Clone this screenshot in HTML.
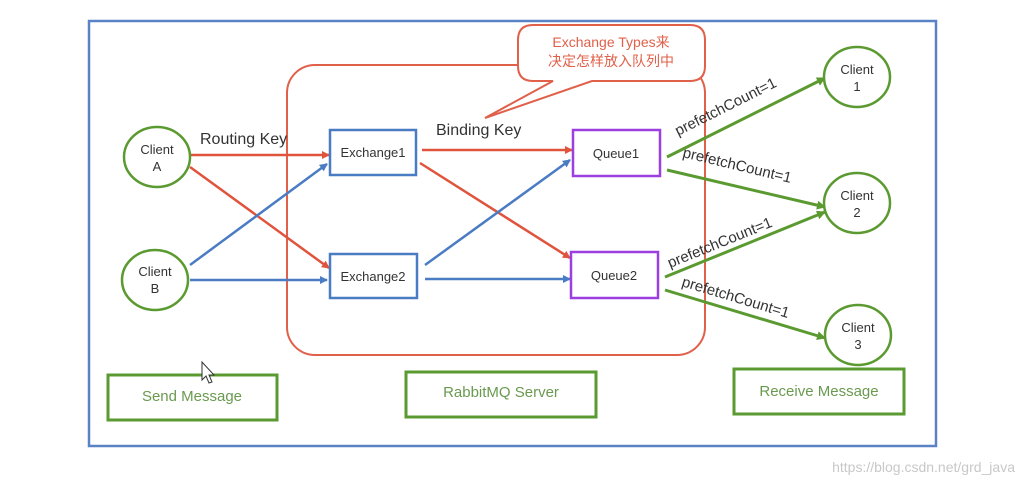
<!DOCTYPE html>
<html><head><meta charset="utf-8"><style>
body{margin:0;background:#fff;}
svg{display:block;font-family:"Liberation Sans","DejaVu Sans",sans-serif;}
</style></head><body>
<svg width="1027" height="484" viewBox="0 0 1027 484" xmlns="http://www.w3.org/2000/svg">
<defs>
<marker id="ar" markerWidth="8" markerHeight="8" refX="7" refY="4" orient="auto" markerUnits="userSpaceOnUse"><path d="M0,0 L8,4 L0,8 z" fill="#e0533c"/></marker>
<marker id="ab" markerWidth="8" markerHeight="8" refX="7" refY="4" orient="auto" markerUnits="userSpaceOnUse"><path d="M0,0 L8,4 L0,8 z" fill="#4a7cc4"/></marker>
<marker id="ag" markerWidth="9" markerHeight="9" refX="8" refY="4.5" orient="auto" markerUnits="userSpaceOnUse"><path d="M0,0 L9,4.5 L0,9 z" fill="#5a9a30"/></marker>
</defs>
<rect x="89" y="21" width="847" height="425" fill="none" stroke="#5a83c6" stroke-width="2.5"/>
<rect x="287" y="65" width="418" height="290" rx="28" fill="none" stroke="#e0604a" stroke-width="2"/>
<path d="M533,25 H690 Q705,25 705,40 V66 Q705,81 690,81 H592 L485,118 L553,81 H533 Q518,81 518,66 V40 Q518,25 533,25 Z" fill="#fff" stroke="#e0604a" stroke-width="2"/>
<text x="611" y="47" font-size="14" fill="#e0604a" text-anchor="middle">Exchange Types来</text>
<text x="611" y="66" font-size="14" fill="#e0604a" text-anchor="middle" font-family="'Liberation Sans','Noto Sans CJK SC',sans-serif">决定怎样放入队列中</text>
<g stroke-width="2.5" fill="none">
<line x1="190" y1="155" x2="329" y2="155" stroke="#e0533c" marker-end="url(#ar)"/>
<line x1="190" y1="167" x2="329" y2="268" stroke="#e0533c" marker-end="url(#ar)"/>
<line x1="190" y1="265" x2="327" y2="164" stroke="#4a7cc4" marker-end="url(#ab)"/>
<line x1="190" y1="280" x2="327" y2="280" stroke="#4a7cc4" marker-end="url(#ab)"/>
<line x1="422" y1="150" x2="572" y2="150" stroke="#e0533c" marker-end="url(#ar)"/>
<line x1="420" y1="163" x2="570" y2="258" stroke="#e0533c" marker-end="url(#ar)"/>
<line x1="425" y1="265" x2="570" y2="160" stroke="#4a7cc4" marker-end="url(#ab)"/>
<line x1="425" y1="279" x2="570" y2="279" stroke="#4a7cc4" marker-end="url(#ab)"/>
<line x1="667" y1="157" x2="825" y2="78" stroke="#5a9a30" stroke-width="3" marker-end="url(#ag)"/>
<line x1="667" y1="170" x2="825" y2="207" stroke="#5a9a30" stroke-width="3" marker-end="url(#ag)"/>
<line x1="665" y1="277" x2="825" y2="212" stroke="#5a9a30" stroke-width="3" marker-end="url(#ag)"/>
<line x1="665" y1="290" x2="825" y2="338" stroke="#5a9a30" stroke-width="3" marker-end="url(#ag)"/>
</g>
<g fill="#fff" stroke="#5a9a30" stroke-width="2.5">
<ellipse cx="157" cy="157" rx="33" ry="30"/>
<ellipse cx="155" cy="280" rx="33" ry="30"/>
<ellipse cx="857" cy="77" rx="33" ry="30"/>
<ellipse cx="857" cy="203" rx="33" ry="30"/>
<ellipse cx="858" cy="335" rx="33" ry="30"/>
</g>
<g font-size="13" fill="#333" text-anchor="middle">
<text x="157" y="154">Client</text><text x="157" y="171">A</text>
<text x="155" y="276">Client</text><text x="155" y="293">B</text>
<text x="857" y="74">Client</text><text x="857" y="91">1</text>
<text x="857" y="200">Client</text><text x="857" y="217">2</text>
<text x="858" y="332">Client</text><text x="858" y="349">3</text>
</g>
<g fill="#fff" stroke-width="2.5">
<rect x="330" y="130" width="86" height="45" stroke="#4a7cc4"/>
<rect x="330" y="254" width="87" height="44" stroke="#4a7cc4"/>
<rect x="573" y="130" width="87" height="46" stroke="#9b3fe0"/>
<rect x="571" y="252" width="87" height="46" stroke="#9b3fe0"/>
</g>
<g font-size="13" fill="#333" text-anchor="middle">
<text x="373" y="157">Exchange1</text>
<text x="373" y="281">Exchange2</text>
<text x="616" y="158">Queue1</text>
<text x="614" y="280">Queue2</text>
</g>
<text x="200" y="144" font-size="16" fill="#333">Routing Key</text>
<text x="436" y="135" font-size="16" fill="#333">Binding Key</text>
<g font-size="15" fill="#333">
<text transform="translate(678,136) rotate(-26.6)">prefetchCount=1</text>
<text transform="translate(682,157) rotate(13.5)">prefetchCount=1</text>
<text transform="translate(670,268) rotate(-22)">prefetchCount=1</text>
<text transform="translate(681,286) rotate(16.7)">prefetchCount=1</text>
</g>
<g fill="#fff" stroke="#5a9a30" stroke-width="3">
<rect x="108" y="375" width="169" height="45"/>
<rect x="406" y="372" width="190" height="45"/>
<rect x="734" y="369" width="170" height="45"/>
</g>
<g font-size="15" fill="#6a9a50" text-anchor="middle">
<text x="192" y="401">Send Message</text>
<text x="501" y="397">RabbitMQ Server</text>
<text x="819" y="396">Receive Message</text>
</g>
<path d="M202,362 L202,380 L206,376 L209,383 L212,382 L209,375 L214,375 Z" fill="#fff" stroke="#333" stroke-width="1"/>
<text x="1015" y="472" font-size="14" fill="#c8c8c8" text-anchor="end">https://blog.csdn.net/grd_java</text>
</svg>
</body></html>
